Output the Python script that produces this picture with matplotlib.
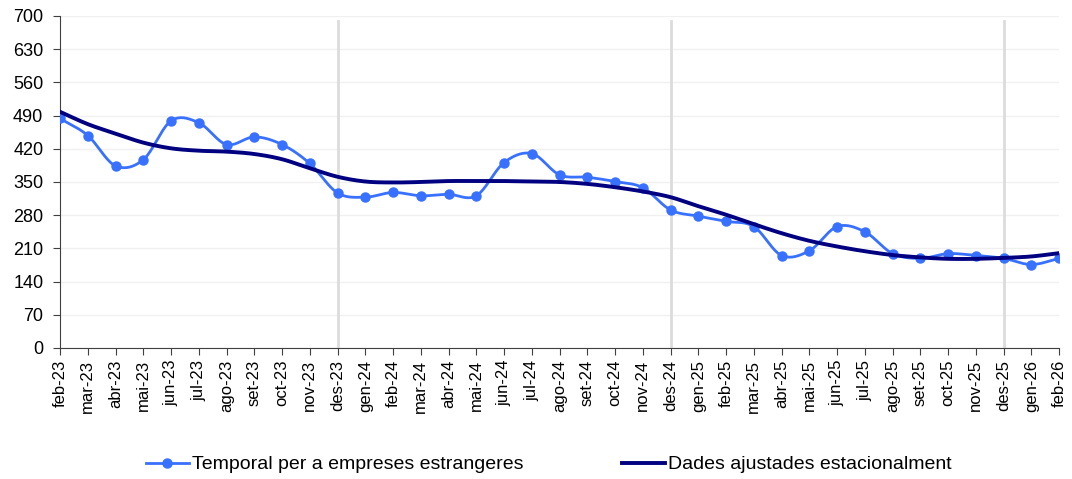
import numpy as np
import matplotlib
matplotlib.use('Agg')
import matplotlib.pyplot as plt

plt.rcParams['font.family'] = ['Liberation Sans', 'DejaVu Sans']

months = ['feb-23', 'mar-23', 'abr-23', 'mai-23', 'jun-23', 'jul-23', 'ago-23', 'set-23',
          'oct-23', 'nov-23', 'des-23', 'gen-24', 'feb-24', 'mar-24', 'abr-24', 'mai-24',
          'jun-24', 'jul-24', 'ago-24', 'set-24', 'oct-24', 'nov-24', 'des-24', 'gen-25',
          'feb-25', 'mar-25', 'abr-25', 'mai-25', 'jun-25', 'jul-25', 'ago-25', 'set-25',
          'oct-25', 'nov-25', 'des-25', 'gen-26', 'feb-26']

temporal = [484, 448, 384, 397, 479, 475, 429, 445, 429, 389, 327, 318, 328, 321, 324, 321,
            391, 410, 365, 360, 351, 338, 291, 278, 267, 256, 195, 205, 256, 245, 199, 189,
            199, 195, 189, 176, 189]

ajustades = [498, 472, 452, 433, 421, 416, 414, 409, 398, 379, 361, 351, 349, 350, 352, 352,
             352, 351, 350, 346, 339, 330, 318, 299, 281, 261, 242, 226, 214, 204, 196, 191,
             188, 188, 190, 193, 200]

december_lines = ['des-23', 'des-24', 'des-25']


# smoothed line like the spreadsheet "smoothed line" option (Catmull-Rom)
def smooth(xs, ys, n=20):
    xs = np.asarray(xs, float)
    ys = np.asarray(ys, float)
    px = np.concatenate([[2 * xs[0] - xs[1]], xs, [2 * xs[-1] - xs[-2]]])
    py = np.concatenate([[2 * ys[0] - ys[1]], ys, [2 * ys[-1] - ys[-2]]])
    outx, outy = [], []
    t = np.linspace(0, 1, n, endpoint=False)
    for i in range(1, len(px) - 2):
        for p, out in ((px, outx), (py, outy)):
            p0, p1, p2, p3 = p[i - 1], p[i], p[i + 1], p[i + 2]
            out.extend(0.5 * ((2 * p1) + (-p0 + p2) * t
                              + (2 * p0 - 5 * p1 + 4 * p2 - p3) * t ** 2
                              + (-p0 + 3 * p1 - 3 * p2 + p3) * t ** 3))
    outx.append(xs[-1])
    outy.append(ys[-1])
    return np.array(outx), np.array(outy)


x = np.arange(len(months))
blue = '#3870ff'
navy = '#000080'

fig = plt.figure(figsize=(10.72, 4.79), dpi=100)
ax = fig.add_axes([0.056, 0.2735, 0.932, 0.6931])

for m in december_lines:
    ax.axvline(months.index(m), ymin=0, ymax=0.985, color='#dcdcdc', lw=2, zorder=1)

sx, sy = smooth(x, temporal)
ax.plot(sx, sy, color=blue, lw=2, zorder=3)
ax.plot(x, temporal, 'o', color=blue, ms=6.5, zorder=4)
line1, = ax.plot([], [], '-o', color=blue, lw=2, ms=6.5)

sx2, sy2 = smooth(x, ajustades)
line2, = ax.plot(sx2, sy2, color=navy, lw=2.8, zorder=5)

ax.set_xlim(0, len(months) - 1)
ax.set_ylim(0, 700)
ax.set_yticks(np.arange(0, 701, 70))
ax.set_xticks(x)
ax.set_xticklabels(months, rotation=90, fontsize=12)
ax.tick_params(axis='y', labelsize=13, length=5, pad=7, color='#404040')
ax.tick_params(axis='x', length=5, color='#404040')
ax.grid(axis='y', color='#f0f0f0', lw=1)
ax.set_axisbelow(True)
for s in ['top', 'right']:
    ax.spines[s].set_visible(False)
for s in ['left', 'bottom']:
    ax.spines[s].set_color('#404040')

fig.legend([line1, line2], ['Temporal per a empreses estrangeres', 'Dades ajustades estacionalment'],
           loc='center', bbox_to_anchor=(0.512, 0.03), ncol=2, frameon=False,
           fontsize=14, columnspacing=5.1, handlelength=2.2, handletextpad=0.15)

plt.savefig('out.png', dpi=100)
